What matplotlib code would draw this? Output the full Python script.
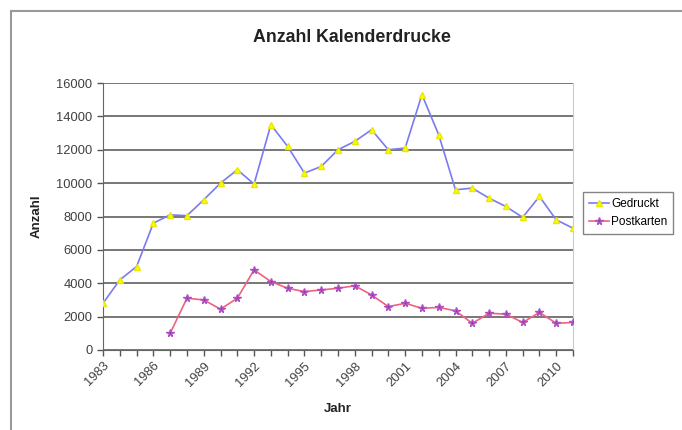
import matplotlib.pyplot as plt
from matplotlib.patches import Rectangle

plt.rcParams['font.family'] = ['Liberation Sans', 'DejaVu Sans']

years = list(range(1983, 2012))
gedruckt = [2800, 4200, 5000, 7600, 8100, 8050, 9000, 10000, 10800, 9950,
            13500, 12200, 10600, 11000, 12000, 12500, 13200, 12000, 12100, 15300,
            12900, 9600, 9700, 9100, 8600, 7950, 9200, 7800, 7300]
post_years = list(range(1987, 2012))
postkarten = [1000, 3100, 3000, 2450, 3100, 4800, 4100, 3700, 3500, 3600,
              3700, 3850, 3300, 2600, 2800, 2500, 2550, 2350, 1600, 2200,
              2150, 1650, 2250, 1600, 1650]
yticks = list(range(0, 16001, 2000))
xtick_years = list(range(1983, 2012, 3))

fig = plt.figure(figsize=(6.82, 4.30), dpi=100)
ax = fig.add_axes([103 / 682, 1 - 350 / 430, 470 / 682, 267 / 430])

# outer chart border (cut off at right/bottom like the screenshot)
fig.patches.append(Rectangle((11 / 682, -0.1), 2, 1 - 11 / 430 + 0.1,
                             transform=fig.transFigure, fill=False,
                             edgecolor='#999999', linewidth=1.5))

ax.plot(years, gedruckt, color='#7B7BF0', linewidth=1.2, marker='^',
        markersize=5, markerfacecolor='#FFFF00', markeredgecolor='#E8E800',
        label='Gedruckt', zorder=3)
ax.plot(post_years, postkarten, color='#F06080', linewidth=1.2, marker='*',
        markersize=5.5, markerfacecolor='#9030A0', markeredgecolor='#B050C0',
        label='Postkarten', zorder=3)

ax.set_xlim(1983, 2011)
ax.set_ylim(0, 16000)
ax.set_yticks(yticks)
ax.set_xticks(years)
ax.set_xticklabels([str(y) if y in xtick_years else '' for y in years],
                   rotation=45, ha='right', rotation_mode='anchor')
ax.tick_params(axis='both', labelsize=9.3, labelcolor='#404040',
               color='#555555', length=4, width=1)
ax.tick_params(axis='x', pad=3)
ax.yaxis.grid(True, color='#777777', linewidth=1.4)
ax.set_axisbelow(True)

ax.spines['top'].set_visible(False)
ax.spines['right'].set_color('#cccccc')
ax.spines['left'].set_color('#666666')
ax.spines['bottom'].set_color('#666666')

ax.set_xlabel('Jahr', fontsize=9.5, fontweight='bold', color='#222222', labelpad=10)
ax.set_ylabel('Anzahl', fontsize=9.5, fontweight='bold', color='#222222', labelpad=10)
fig.text(352 / 682, 1 - 38 / 430, 'Anzahl Kalenderdrucke', ha='center',
         va='center', fontsize=12.8, fontweight='bold', color='#222222')

leg = ax.legend(loc='upper left', bbox_to_anchor=(583 / 682, 1 - 192 / 430),
                bbox_transform=fig.transFigure, fontsize=8.5, frameon=True,
                fancybox=False, edgecolor='#666666', handlelength=1.7,
                borderpad=0.5, labelspacing=0.5, handletextpad=0.2,
                borderaxespad=0)
leg.get_frame().set_linewidth(1)

fig.savefig('out.png', dpi=100)
